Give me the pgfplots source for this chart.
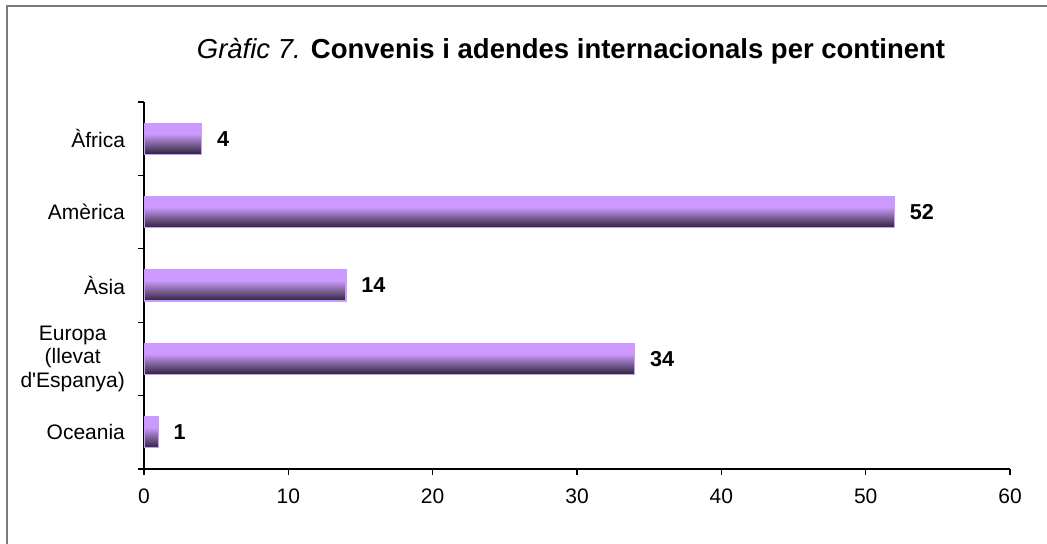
\documentclass[border=0pt]{standalone}
\usepackage{pgfplots}
\pgfplotsset{compat=1.18}
\usepackage{fontspec}
\setmainfont{Liberation Sans}
\definecolor{barLight}{HTML}{CC99FF}
\definecolor{barMid}{HTML}{8C6CAC}
\definecolor{barDark}{HTML}{2D2238}
\definecolor{frameGray}{HTML}{7A7A7A}
\pgfdeclareverticalshading{barshade}{100bp}{color(0bp)=(barDark); color(25bp)=(barDark); color(45bp)=(barMid); color(58bp)=(barLight); color(100bp)=(barLight)}
\begin{document}
\begin{tikzpicture}[x=1pt,y=1pt]
\useasboundingbox (0,0) rectangle (523.5,272);
\draw[color=frameGray, line width=1pt] (3.5,-5) -- (3.5,269) -- (530,269);
\node[font=\fontsize{13.75}{16}\selectfont] at (285.5,246.5) {\textit{Gràfic 7.} \textbf{Convenis i adendes internacionals per continent}};
\begin{axis}[
  at={(72pt,37.5pt)}, anchor=south west, scale only axis,
  width=433pt, height=183.5pt,
  xbar, bar width=15.5pt, bar shift=0pt,
  xmin=0, xmax=60, xtick={0,10,...,60},
  ymin=-0.5, ymax=4.5,
  ytick={0,1,2,3,4},
  yticklabels={Oceania, {Europa\\(llevat\\d\textquotesingle Espanya)}, Àsia, Amèrica, Àfrica},
  minor ytick={-0.5,0.5,...,4.5},
  major y tick style={draw=none},
  axis x line*=bottom, axis y line*=left,
  tick align=outside, major tick length=3pt, minor tick length=3pt,
  tick style={black, line width=0.6pt},
  axis line style={black, line width=0.6pt},
  /pgf/number format/assume math mode=true,
  ticklabel style={font=\fontsize{10.5}{11.8}\selectfont},
  yticklabel style={align=center, xshift=-3pt},
  xticklabel style={yshift=-3.5pt},
  nodes near coords,
  every node near coord/.append style={font=\bfseries\fontsize{10.8}{12}\selectfont, anchor=west, xshift=4pt},
  barstyle/.style={shade, shading=barshade, draw=barLight, line width=0.6pt},
]
\addplot[barstyle] coordinates {(1,0)};
\addplot[barstyle] coordinates {(34,1)};
\addplot[barstyle] coordinates {(14,2)};
\addplot[barstyle] coordinates {(52,3)};
\addplot[barstyle] coordinates {(4,4)};
\end{axis}
\end{tikzpicture}
\end{document}
